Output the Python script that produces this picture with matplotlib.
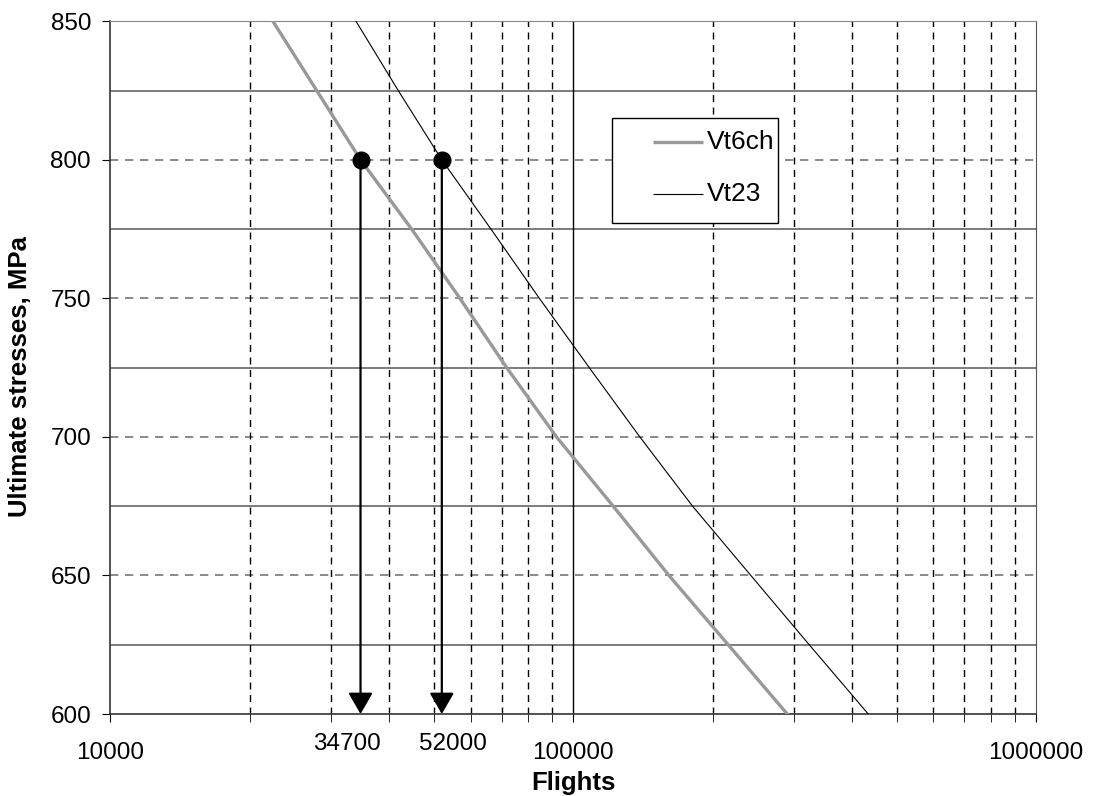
import matplotlib
matplotlib.use("Agg")
import matplotlib.pyplot as plt
from matplotlib.patches import Rectangle
import numpy as np

plt.rcParams['font.family'] = ['Liberation Sans', 'DejaVu Sans']

# stress levels (MPa) and flights
stress = [850, 825, 800, 775, 750, 725, 700, 675, 650, 625, 600]
vt6ch_flights = [22440, 27900, 34700, 44750, 56900, 71800, 92000, 122000, 161000, 216200, 290000]
vt23_flights = [33930, 41860, 52000, 66400, 84500, 108300, 139300, 181100, 242000, 323600, 434000]

# marked points at 800 MPa
mark_stress = 800
mark_flights = [34700, 52000]

series = [('Vt6ch', vt6ch_flights, '#999999', 2.4),
          ('Vt23', vt23_flights, 'black', 0.8)]

fs = 17.5
fs_lab = 18.5
fs_leg = 19

fig = plt.figure(figsize=(10.95, 7.96), dpi=100)
ax = fig.add_axes([0.1009, 0.103, 0.8452, 0.8703])

ax.set_xscale('log')
ax.set_xlim(1e4, 1e6)
ax.set_ylim(600, 850)

# grid
for s in [625, 675, 725, 775, 825]:
    ax.axhline(s, color='#666666', lw=1.2, zorder=1)
for s in [650, 700, 750, 800]:
    ax.axhline(s, color='#777777', lw=1.2, ls=(0, (5, 4)), zorder=1)
ax.axvline(1e5, color='black', lw=1.0, zorder=1)
for dec in [1e4, 1e5]:
    for m in range(2, 10):
        ax.axvline(dec * m, color='black', lw=1.0, ls=(0, (5, 4)), zorder=1)

for name, fl, col, lw in series:
    ax.plot(fl, stress, color=col, lw=lw, label=name, zorder=3)

for f in mark_flights:
    ax.annotate('', xy=(f, 600), xytext=(f, mark_stress),
                arrowprops=dict(arrowstyle='-|>,head_length=1.3,head_width=0.75',
                                color='black', lw=1.6, mutation_scale=10,
                                shrinkA=0, shrinkB=0), zorder=4)
    ax.plot(f, mark_stress, 'o', color='black', ms=12, zorder=5)

# axes styling
ax.spines['top'].set_color('#888888')
ax.spines['right'].set_color('#555555')
ax.spines['left'].set_color('#333333')
ax.spines['bottom'].set_color('#333333')
ax.spines['left'].set_linewidth(1.2)
ax.spines['bottom'].set_linewidth(1.2)

ax.set_xticks([1e4, 1e5, 1e6])
ax.set_xticklabels(['10000', '100000', '1000000'])
ax.set_xticks([d * m for d in [1e4, 1e5] for m in range(2, 10)], minor=True)
ax.set_xticklabels([], minor=True)
ax.tick_params(axis='x', which='both', direction='out', length=6, labelsize=fs, pad=14)
ax.set_yticks([600, 650, 700, 750, 800, 850])
ax.tick_params(axis='y', which='major', direction='out', length=6, labelsize=fs, pad=8)

for f, dx in zip(mark_flights, [-10, 8]):
    ax.annotate(str(f), xy=(f, 0), xycoords=('data', 'axes fraction'),
                xytext=(dx, -14), textcoords='offset points',
                ha='center', va='top', fontsize=fs)

ax.set_xlabel('Flights', fontsize=fs_lab, fontweight='bold', labelpad=5)
ax.set_ylabel('Ultimate stresses, MPa', fontsize=fs_lab, fontweight='bold')
ax.yaxis.set_label_coords(-0.085, 0.487)

# legend box drawn the way the original one sits (wide left margin)
ax.add_patch(Rectangle((0.5419, 0.7092), 0.1794, 0.1517, transform=ax.transAxes,
                       facecolor='white', edgecolor='black', lw=1.0, zorder=6))
for (name, fl, col, lw), yy in zip(series, [0.8262, 0.7511]):
    ax.plot([0.5867, 0.6407], [yy, yy], color=col, lw=lw, transform=ax.transAxes,
            zorder=7, solid_capstyle='butt')
    ax.text(0.6445, yy, name, transform=ax.transAxes, fontsize=fs_leg,
            va='center', ha='left', zorder=7)

fig.savefig('out.png', dpi=100)
